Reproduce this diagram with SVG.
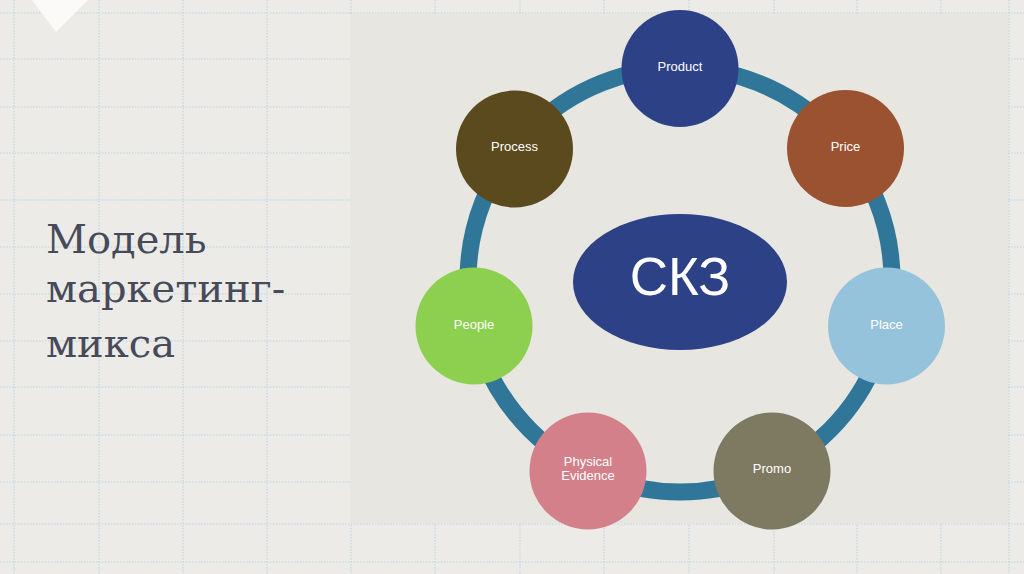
<svg xmlns="http://www.w3.org/2000/svg" width="1024" height="574" viewBox="0 0 1024 574">
<style>
.grid line{stroke:#bdd2dd;stroke-width:1.1;stroke-dasharray:1.5 1.5}
.node text{font-family:"Liberation Sans",Arial,sans-serif;font-size:13px;fill:#ffffff;text-anchor:middle}
.title{font-family:"DejaVu Serif","Liberation Serif",serif;font-size:40px;fill:#474b59}
</style>
<rect width="1024" height="574" fill="#edebe8"/>
<g class="grid">
<line x1="14" y1="0" x2="14" y2="574"/>
<line x1="99" y1="0" x2="99" y2="574"/>
<line x1="183" y1="0" x2="183" y2="574"/>
<line x1="267" y1="0" x2="267" y2="574"/>
<line x1="351" y1="0" x2="351" y2="574"/>
<line x1="435" y1="0" x2="435" y2="574"/>
<line x1="520" y1="0" x2="520" y2="574"/>
<line x1="604" y1="0" x2="604" y2="574"/>
<line x1="689" y1="0" x2="689" y2="574"/>
<line x1="774" y1="0" x2="774" y2="574"/>
<line x1="857" y1="0" x2="857" y2="574"/>
<line x1="941" y1="0" x2="941" y2="574"/>
<line x1="1009" y1="0" x2="1009" y2="574"/>
<line x1="0" y1="13" x2="1024" y2="13"/>
<line x1="0" y1="59" x2="1024" y2="59"/>
<line x1="0" y1="107" x2="1024" y2="107"/>
<line x1="0" y1="153" x2="1024" y2="153"/>
<line x1="0" y1="200" x2="1024" y2="200"/>
<line x1="0" y1="247" x2="1024" y2="247"/>
<line x1="0" y1="294" x2="1024" y2="294"/>
<line x1="0" y1="341" x2="1024" y2="341"/>
<line x1="0" y1="387" x2="1024" y2="387"/>
<line x1="0" y1="435" x2="1024" y2="435"/>
<line x1="0" y1="482" x2="1024" y2="482"/>
<line x1="0" y1="524" x2="1024" y2="524"/>
<line x1="0" y1="562" x2="1024" y2="562"/>
</g>
<rect x="350" y="14" width="658" height="509" fill="#e7e6e1"/>
<polygon points="32,0 88,0 56,32" fill="#fbfaf8"/>
<g id="title">
<text class="title" x="46" y="253">Модель</text>
<text class="title" x="46" y="302">маркетинг-</text>
<text class="title" x="46" y="357">микса</text>
</g>
<g id="connectors">
<circle cx="680" cy="280" r="212" fill="none" stroke="#2f7699" stroke-width="17"/>
</g>
<g id="center" class="node">
<ellipse cx="680" cy="282" rx="107" ry="68" fill="#2d4286"/>
<text x="680" y="295" style="font-size:53px">СКЗ</text>
</g>
<g id="product" class="node">
<circle cx="680" cy="68.5" r="58.5" fill="#2d4286"/>
<text x="680" y="71">Product</text>
</g>
<g id="price" class="node">
<circle cx="845.5" cy="148.5" r="58.5" fill="#9a5230"/>
<text x="845.5" y="151">Price</text>
</g>
<g id="place" class="node">
<circle cx="886.5" cy="326" r="58.5" fill="#95c3dc"/>
<text x="886.5" y="329">Place</text>
</g>
<g id="promo" class="node">
<circle cx="772" cy="471" r="58.5" fill="#7e7a62"/>
<text x="772" y="473">Promo</text>
</g>
<g id="physical" class="node">
<circle cx="588" cy="471" r="58.5" fill="#d4808a"/>
<text x="588" y="466">Physical</text>
<text x="588" y="480">Evidence</text>
</g>
<g id="people" class="node">
<circle cx="474" cy="326" r="58.5" fill="#8dd04f"/>
<text x="474" y="329">People</text>
</g>
<g id="process" class="node">
<circle cx="514.5" cy="149" r="58.5" fill="#5a4a1e"/>
<text x="514.5" y="151">Process</text>
</g>
</svg>
